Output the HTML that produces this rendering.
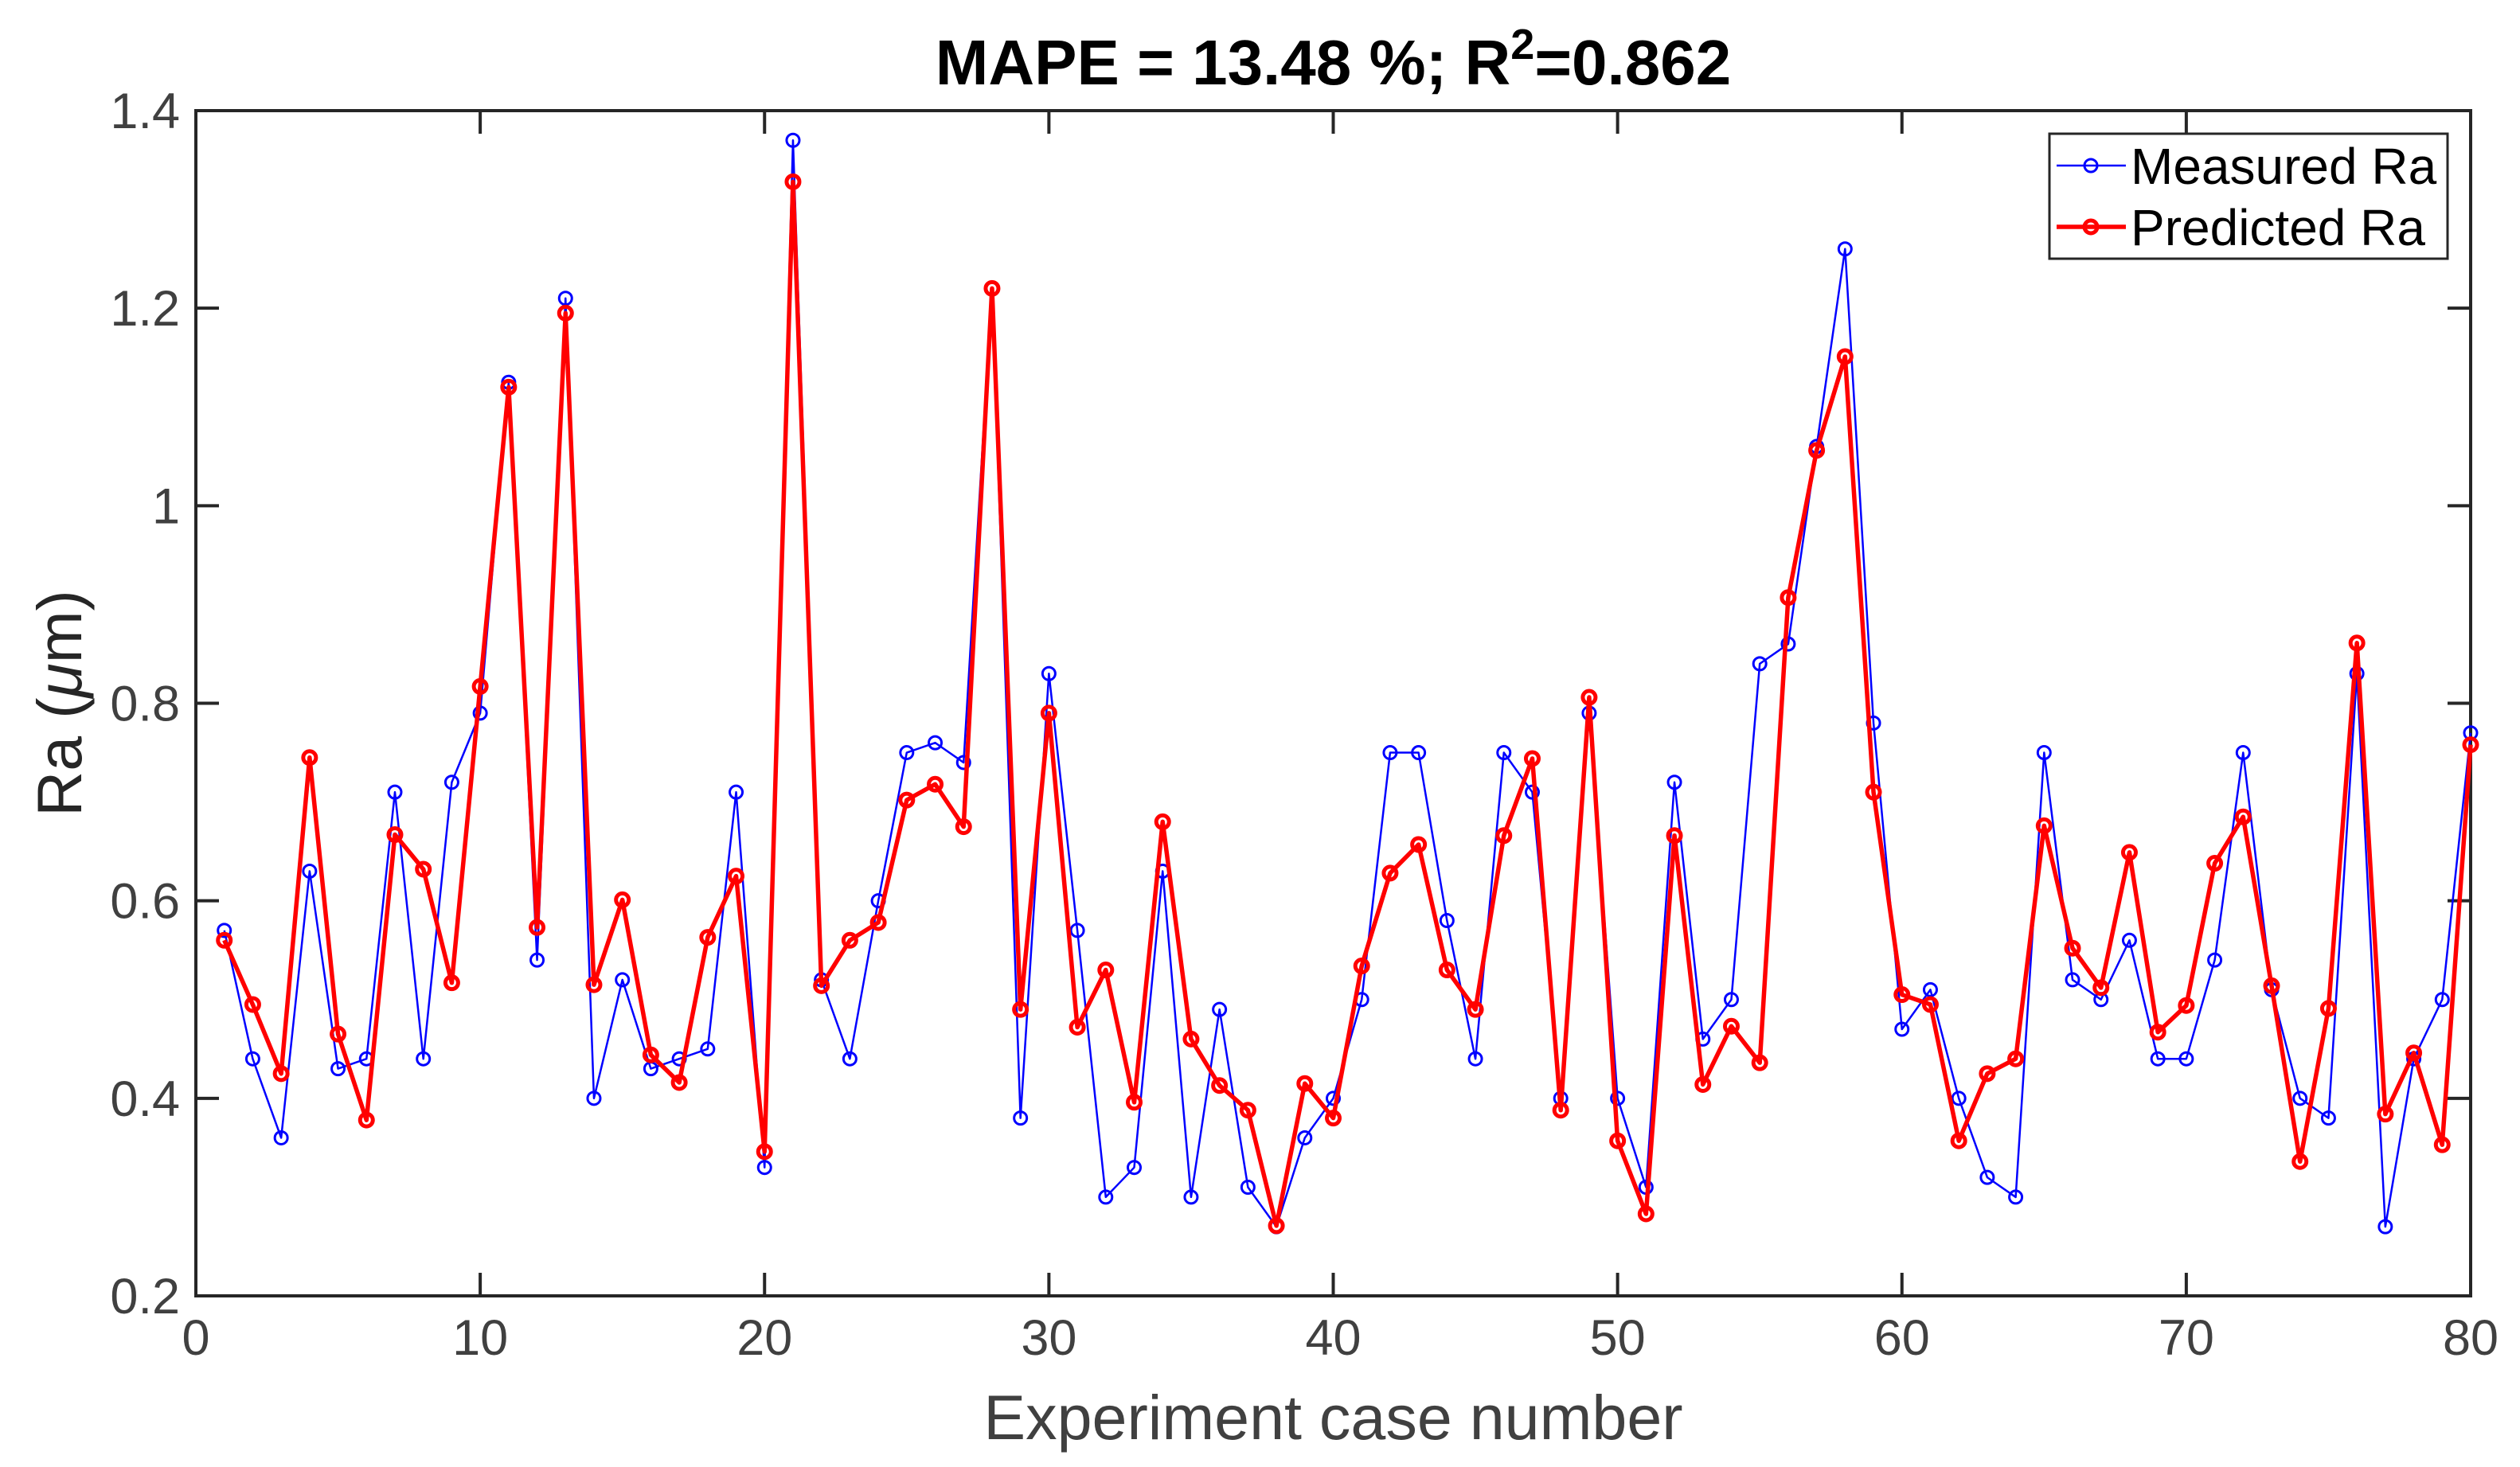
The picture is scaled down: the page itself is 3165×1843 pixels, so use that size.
<!DOCTYPE html>
<html><head><meta charset="utf-8"><style>
html,body{margin:0;padding:0;background:#fff}
svg{display:block;font-family:"Liberation Sans",Arial,sans-serif}
</style></head><body>
<svg id="chart" width="3165" height="1843" viewBox="0 0 3165 1843" xmlns="http://www.w3.org/2000/svg">
<rect width="3165" height="1843" fill="#fff"/>
<g id="axes"></g>
<g id="series"></g>
</svg>
<script>
const measured=[0.57,0.44,0.36,0.63,0.43,0.44,0.71,0.44,0.72,0.79,1.125,0.54,1.21,0.40,0.52,0.43,0.44,0.45,0.71,0.33,1.37,0.52,0.44,0.60,0.75,0.76,0.74,1.22,0.38,0.83,0.57,0.30,0.33,0.63,0.30,0.49,0.31,0.27,0.36,0.40,0.50,0.75,0.75,0.58,0.44,0.75,0.71,0.40,0.79,0.40,0.31,0.72,0.46,0.50,0.84,0.86,1.06,1.26,0.78,0.47,0.51,0.40,0.32,0.30,0.75,0.52,0.50,0.56,0.44,0.44,0.54,0.75,0.51,0.40,0.38,0.83,0.27,0.44,0.50,0.77];
const predicted=[0.56,0.495,0.425,0.745,0.465,0.378,0.667,0.632,0.517,0.817,1.12,0.573,1.195,0.515,0.601,0.444,0.416,0.563,0.625,0.346,1.328,0.514,0.56,0.578,0.702,0.718,0.675,1.22,0.49,0.79,0.472,0.53,0.396,0.68,0.46,0.413,0.388,0.271,0.415,0.38,0.534,0.628,0.657,0.53,0.49,0.666,0.744,0.388,0.806,0.357,0.283,0.666,0.414,0.473,0.436,0.907,1.056,1.151,0.71,0.505,0.495,0.357,0.425,0.44,0.676,0.552,0.512,0.649,0.467,0.494,0.638,0.685,0.514,0.336,0.491,0.861,0.384,0.446,0.353,0.758];
const xTicks=[0,10,20,30,40,50,60,70,80];
const yTicks=[0.2,0.4,0.6,0.8,1,1.2,1.4];
const yTickLabels=["0.2","0.4","0.6","0.8","1","1.2","1.4"];

const L=246,R=3103,T=139,B=1628;
const X=v=>L+(v-0)/(80-0)*(R-L);
const Y=v=>B-(v-0.2)/(1.4-0.2)*(B-T);
const NS="http://www.w3.org/2000/svg";
function mk(tag,attrs,parent){const e=document.createElementNS(NS,tag);for(const k in attrs)e.setAttribute(k,attrs[k]);parent.appendChild(e);return e;}
const ax=document.getElementById('axes'), se=document.getElementById('series');
const col="#262626";
let box=mk('rect',{x:L,y:T,width:R-L,height:B-T,fill:'none',stroke:col,'stroke-width':4},ax);


xTicks.forEach(t=>{
  const x=X(t);
  let tk=mk('path',{d:`M${x},${B}V${B-29}M${x},${T}V${T+29}`,stroke:col,'stroke-width':4},ax);
  
  
  let tx=mk('text',{x:x,y:B+74,'text-anchor':'middle','font-size':63,fill:'#404040'},ax);
  tx.textContent=t;
  
  
});
yTicks.forEach((t,i)=>{
  const y=Y(t);
  let tk=mk('path',{d:`M${L},${y}H${L+29}M${R},${y}H${R-29}`,stroke:col,'stroke-width':4},ax);
  
  
  let tx=mk('text',{x:L-20,y:y+22,'text-anchor':'end','font-size':63,fill:'#404040'},ax);
  tx.textContent=yTickLabels[i];
  
  
});
let xl=mk('text',{x:(L+R)/2,y:1808,'text-anchor':'middle','font-size':79,fill:'#404040'},ax);
xl.textContent='Experiment case number';


let yl=mk('text',{x:0,y:0,'text-anchor':'middle','font-size':79,fill:'#262626',transform:`translate(102,${(T+B)/2}) rotate(-90)`},ax);
yl.innerHTML='Ra (<tspan font-style="italic">μ</tspan>m)';


let ti=mk('text',{x:(L+R)/2,y:106,'text-anchor':'middle','font-size':80,'font-weight':'bold',fill:'#000'},ax);
ti.innerHTML='MAPE = 13.48 %; R<tspan dy="-32" font-size="54">2</tspan><tspan dy="32">=0.862</tspan>';



function series(vals,color,lw,mw,name){
  const g=mk('g',{},se);
  
  
  const pts=vals.map((v,i)=>X(i+1)+','+Y(v)).join(' ');
  const pl=mk('polyline',{points:pts,fill:'none',stroke:color,'stroke-width':lw,'stroke-linejoin':'round'},g);
  
  
  vals.forEach((v,i)=>{
    const c=mk('circle',{cx:X(i+1),cy:Y(v),r:8,fill:'none',stroke:color,'stroke-width':mw},g);
    
    
  });
}
series(measured,'#0000ff',2.5,3,'measured-ra');
series(predicted,'#ff0000',5.5,5,'predicted-ra');

const lg=mk('g',{},ax);


mk('rect',{x:2574,y:168,width:500,height:157,fill:'#fff',stroke:col,'stroke-width':3},lg);
mk('line',{x1:2583,y1:208,x2:2670,y2:208,stroke:'#0000ff','stroke-width':2.5},lg);
mk('circle',{cx:2626,cy:208,r:8,fill:'none',stroke:'#0000ff','stroke-width':3},lg);
mk('line',{x1:2583,y1:285,x2:2670,y2:285,stroke:'#ff0000','stroke-width':5.5},lg);
mk('circle',{cx:2626,cy:285,r:8,fill:'none',stroke:'#ff0000','stroke-width':5},lg);
let l1=mk('text',{x:2676,y:231,'font-size':64,fill:'#000'},lg);
l1.textContent='Measured Ra';


let l2=mk('text',{x:2676,y:308,'font-size':64,fill:'#000'},lg);
l2.textContent='Predicted Ra';


</script>
</body></html>
